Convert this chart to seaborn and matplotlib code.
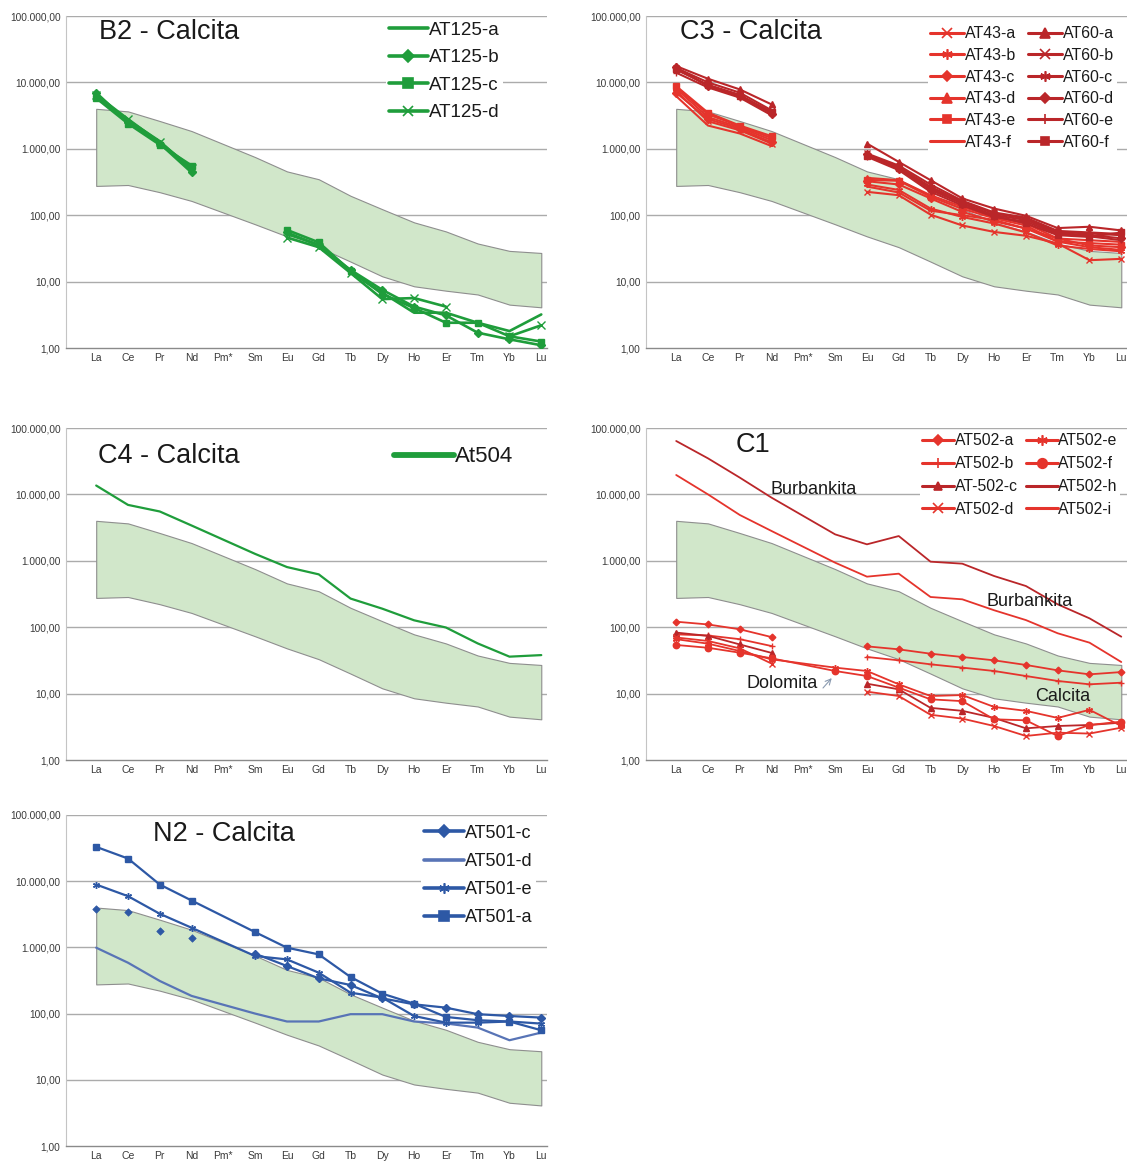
import numpy as np
import matplotlib
matplotlib.use("Agg")
import matplotlib.pyplot as plt
from matplotlib.lines import Line2D
from matplotlib.ticker import FixedLocator, FuncFormatter, NullLocator
import seaborn as sns

nan = np.nan

# ---------------------------------------------------------------- categories
ELEMENTS = ["La", "Ce", "Pr", "Nd", "Pm*", "Sm", "Eu", "Gd", "Tb",
            "Dy", "Ho", "Er", "Tm", "Yb", "Lu"]
# analysed elements (Pm is never measured)
MEASURED = ["La", "Ce", "Pr", "Nd", "Sm", "Eu", "Gd", "Tb",
            "Dy", "Ho", "Er", "Tm", "Yb", "Lu"]

# ---------------------------------------------------------------- reference field (carbonatites)
FIELD_UPPER = [4000, 3660, 2620, 1850, 750, 457, 348, 196, 123, 78, 57, 37.5, 29, 27]
FIELD_LOWER = [276, 285, 222, 164, 73, 48, 33, 20, 12, 8.5, 7.3, 6.4, 4.5, 4.1]

# ---------------------------------------------------------------- B2 - Calcita
AT125_a = [6000, 2700, 1300, 480, nan, 52, 36, 14, 6.8, 3.4, 3.4, 2.4, 1.8, 3.2]
AT125_b = [7000, 2500, 1200, 440, nan, 55, 35, 15, 7.5, 4.2, 3.1, 1.7, 1.35, 1.1]
AT125_c = [5800, 2400, 1150, 560, nan, 60, 39, 14.5, 6.5, 4.0, 2.4, 2.4, 1.5, 1.25]
AT125_d = [6500, 2800, 1250, 520, nan, 46, 33, 13.5, 5.45, 5.65, 4.2, nan, 1.5, 2.2]

# ---------------------------------------------------------------- C3 - Calcita
AT43_a = [7400, 2600, 1900, 1200, nan, 225, 200, 102, 70, 56, 49, 37.5, 21, 22]
AT43_b = [8000, 3000, 2100, 1350, nan, 290, 240, 126, 94, 75, 55, 35, 31, 28.6]
AT43_c = [7000, 2800, 2000, 1250, nan, 325, 290, 179, 112, 81, 63, 44.5, 35, 33]
AT43_d = [8500, 3300, 2200, 1450, nan, 365, 337, 200, 134, 94, 75, 44.5, 42, 39.6]
AT43_e = [8800, 3500, 2240, 1550, nan, 340, 330, 190, 125, 90, 70, 40, 38, 36]
AT43_f = [6200, 2240, 1700, 1100, nan, 270, 220, 117, 100, 85, 63, 40, 33, 30]
AT60_a = [17600, 11350, 7840, 4660, nan, 1200, 635, 337, 179, 126, 98, 64, 67, 59]
AT60_b = [16500, 10000, 7000, 3800, nan, 850, 560, 290, 165, 110, 92, 58, 55, 52]
AT60_c = [15500, 9200, 6500, 3500, nan, 800, 535, 268, 159, 106, 89, 56, 53, 50]
AT60_d = [16800, 8800, 6200, 3400, nan, 822, 500, 240, 150, 100, 85, 54, 50, 45]
AT60_e = [14000, 8400, 5900, 3200, nan, 760, 478, 225, 141, 94, 80, 52, 48, 42]
AT60_f = [16000, 9000, 6300, 3600, nan, 790, 520, 255, 150, 98, 75, 50, 47, 55]

# ---------------------------------------------------------------- C4 - Calcita
At504 = [13600, 6950, 5530, 3400, 1270, 805, 625, 270, 190, 127, 99, 57, 36, 38]

# ---------------------------------------------------------------- C1
AT502_a = [121, 110, 93, 71, nan, 51.5, 46.4, 39.9, 35.6, 31.7, 27, 22.4, 19.5, 21.1]
AT502_b = [78, 75, 66, 52, nan, 35.6, 31.7, 27.6, 24.6, 21.9, 18.4, 15.5, 13.8, 14.6]
AT502_c = [83, 74, 55, 41, nan, 14.1, 11.6, 6.1, 5.5, 4.3, 3.0, 3.25, 3.37, 3.65]
AT502_d = [70, 62, 48, 28.3, nan, 10.7, 9.2, 4.8, 4.2, 3.25, 2.3, 2.58, 2.5, 3.07]
AT502_e = [66, 56.5, 43.8, 32.8, 24.6, 21.9, 13.8, 9.2, 9.5, 6.3, 5.5, 4.3, 5.7, 3.25]
AT502_f = [54, 49, 41.3, 34, 21.9, 18.4, 12.3, 8.2, 7.7, 4.1, 3.96, 2.3, 3.37, 3.78]
AT502_h = [63700, 34900, 17900, 8930, 2500, 1770, 2360, 970, 905, 590, 417, 221, 136, 72]
AT502_i = [19600, 10000, 4900, 2810, 937, 577, 640, 285, 263, 180, 128, 81, 58.5, 29.9]

# ---------------------------------------------------------------- N2 - Calcita
AT501_c = [3740, 3450, 1760, 1370, 803, 523, 341, 270, 170, 138, 123, 98, 92, 87]
AT501_d = [990, 587, 311, 185, 100, 76, 76, 98, 98, 76, 71, 61.5, 39.6, 51.7]
AT501_e = [8900, 5940, 3220, 1980, 740, 659, 415, 207, 174, 92, 73, 73, 76, 70.6]
AT501_a = [33000, 22000, 8900, 5110, 1700, 990, 784, 357, 200, 141, 89, 79.5, 75.9, 56]

# ---------------------------------------------------------------- styling
GREEN = "#1F9D3B"
RED = "#E5342C"
DARK_RED = "#BA2629"
BLUE = "#2D58A5"
BLUE_LIGHT = "#5874B6"
FIELD_FILL = "#D1E7CA"
FIELD_EDGE = "#8E8E8E"
GRID = "#ABABAB"
TXT = "#1A1A1A"
ASTER = (6, 2, 0)

sns.set_style("white")
plt.rcParams["font.family"] = ["Liberation Sans", "DejaVu Sans"]

W, H = 1127, 1162
fig = plt.figure(figsize=(W / 100, H / 100), dpi=100)

POS = np.array([ELEMENTS.index(e) for e in MEASURED], dtype=float)


def fx(x):
    return x / W


def fy(y):
    return 1 - y / H


def make_axes(left, right, top, bottom):
    ax = fig.add_axes([fx(left), fy(bottom), (right - left) / W, (bottom - top) / H])
    ax.set_yscale("log")
    ax.set_ylim(1, 1e5)
    ax.set_xlim(-0.95, 14.18)
    ax.yaxis.set_major_locator(FixedLocator([1, 10, 100, 1000, 10000, 100000]))
    ax.yaxis.set_minor_locator(NullLocator())
    labels = {1: "1,00", 10: "10,00", 100: "100,00", 1000: "1.000,00",
              10000: "10.000,00", 100000: "100.000,00"}
    ax.yaxis.set_major_formatter(FuncFormatter(lambda v, p: labels.get(int(round(v)), "")))
    ax.set_xticks(range(len(ELEMENTS)))
    ax.set_xticklabels(ELEMENTS)
    ax.tick_params(axis="x", length=3, width=0.8, color="#8A8A8A", pad=0.5,
                   labelsize=7.5, labelcolor="#3A3A3A")
    ax.tick_params(axis="y", length=0, pad=4, labelsize=7.3, labelcolor="#3A3A3A")
    ax.grid(False)
    for v in [10, 100, 1000, 10000, 100000]:
        ax.axhline(v, color=GRID, lw=1.0, zorder=0.5)
    for s in ["top", "right"]:
        ax.spines[s].set_visible(False)
    ax.spines["left"].set_color("#C4C4C4")
    ax.spines["left"].set_linewidth(0.8)
    ax.spines["bottom"].set_color("#8A8A8A")
    ax.spines["bottom"].set_linewidth(1.0)
    ax.set_xlabel("")
    ax.set_ylabel("")
    # reference field
    ax.fill_between(POS, FIELD_LOWER, FIELD_UPPER, facecolor=FIELD_FILL,
                    edgecolor=FIELD_EDGE, linewidth=0.8, zorder=1)
    return ax


def runs(mask):
    out, cur = [], []
    for i, ok in enumerate(mask):
        if ok:
            cur.append(i)
        elif cur:
            out.append(cur)
            cur = []
    if cur:
        out.append(cur)
    return out


def draw(ax, values, color, marker=None, ms=5, lw=1.6, loose_until=0):
    y = np.asarray(values, dtype=float)
    x = POS
    if loose_until:
        sel = np.arange(loose_until)
        sel = sel[~np.isnan(y[sel])]
        sns.scatterplot(x=x[sel], y=y[sel], ax=ax, marker=marker, s=ms ** 2,
                        color=color, edgecolor=color, linewidth=0.5,
                        legend=False, zorder=3)
        y = y.copy()
        y[:loose_until] = nan
    for seg in runs(~np.isnan(y)):
        kw = dict(color=color, linewidth=lw, legend=False, sort=False,
                  estimator=None, zorder=3)
        if marker is not None:
            kw.update(marker=marker, markersize=ms, markeredgecolor=color,
                      markerfacecolor=color, markeredgewidth=1.0)
        sns.lineplot(x=x[seg], y=y[seg], ax=ax, **kw)


def handle(color, marker=None, ms=7, lw=2.2):
    return Line2D([], [], color=color, lw=lw, marker=marker, markersize=ms,
                  markeredgecolor=color, markerfacecolor=color, markeredgewidth=1.2)


def legend(ax, handles, labels, left, top, fs, ncol=1, hl=2.1, ls=0.45, cs=0.6):
    leg = ax.legend(handles, labels, loc="upper left",
                    bbox_to_anchor=(fx(left), fy(top)), bbox_transform=fig.transFigure,
                    ncol=ncol, frameon=True, facecolor="white", edgecolor="none",
                    framealpha=1, fancybox=False, borderpad=0.15, borderaxespad=0,
                    handlelength=hl, handletextpad=0.05, labelspacing=ls,
                    columnspacing=cs, fontsize=fs)
    for t in leg.get_texts():
        t.set_color(TXT)
    leg.set_zorder(5)
    return leg


def title(text, cx, cy, fs=19.5):
    fig.text(fx(cx), fy(cy), text, ha="center", va="center", fontsize=fs, color=TXT)


# ================================================================ B2 - Calcita
ax = make_axes(66, 547, 16, 348)
b2 = [("AT125-a", AT125_a, None, 5.5), ("AT125-b", AT125_b, "D", 4.5),
      ("AT125-c", AT125_c, "s", 5.0), ("AT125-d", AT125_d, "x", 5.5)]
for lab, vals, mk, ms in b2:
    draw(ax, vals, GREEN, mk, ms, lw=1.9)
legend(ax, [handle(GREEN, mk, ms * 1.4, lw=2.6) for _, _, mk, ms in b2],
       [b[0] for b in b2], 386, 19, 13.5, hl=2.1, ls=0.55)
title("B2 - Calcita", 169, 32)

# ================================================================ C3 - Calcita
ax = make_axes(646, 1127, 16, 348)
c3 = [("AT43-a", AT43_a, RED, "x", 4.5), ("AT43-b", AT43_b, RED, ASTER, 5.0),
      ("AT43-c", AT43_c, RED, "D", 3.6), ("AT43-d", AT43_d, RED, "^", 4.5),
      ("AT43-e", AT43_e, RED, "s", 4.2), ("AT43-f", AT43_f, RED, None, 4),
      ("AT60-a", AT60_a, DARK_RED, "^", 4.5), ("AT60-b", AT60_b, DARK_RED, "x", 4.5),
      ("AT60-c", AT60_c, DARK_RED, ASTER, 5.0), ("AT60-d", AT60_d, DARK_RED, "D", 3.6),
      ("AT60-e", AT60_e, DARK_RED, "+", 5.0), ("AT60-f", AT60_f, DARK_RED, "s", 4.2)]
for lab, vals, col, mk, ms in c3:
    draw(ax, vals, col, mk, ms, lw=1.5)
legend(ax, [handle(col, mk, ms * 1.5, lw=2.2) for _, _, col, mk, ms in c3],
       [c[0] for c in c3], 928, 24, 11.4, ncol=2, hl=2.15, ls=0.42, cs=0.75)
title("C3 - Calcita", 751, 32)

# ================================================================ C4 - Calcita
ax = make_axes(66, 547, 428, 760)
draw(ax, At504, GREEN, None, lw=1.6)
legend(ax, [handle(GREEN, None, lw=4.2)], ["At504"], 391, 443, 16, hl=2.7)
title("C4 - Calcita", 169, 456)

# ================================================================ C1
ax = make_axes(646, 1127, 428, 760)
c1 = [("AT502-a", AT502_a, RED, "D", 3.4), ("AT502-b", AT502_b, RED, "+", 5.0),
      ("AT-502-c", AT502_c, DARK_RED, "^", 4.2), ("AT502-d", AT502_d, RED, "x", 4.5),
      ("AT502-e", AT502_e, RED, ASTER, 5.0), ("AT502-f", AT502_f, RED, "o", 4.6),
      ("AT502-h", AT502_h, DARK_RED, None, 4), ("AT502-i", AT502_i, RED, None, 4)]
for lab, vals, col, mk, ms in c1:
    draw(ax, vals, col, mk, ms, lw=1.3)
legend(ax, [handle(col, mk, ms * 1.5, lw=2.2) for _, _, col, mk, ms in c1],
       [c[0] for c in c1], 920, 431, 11.3, ncol=2, hl=2.0, ls=0.5, cs=0.55)
title("C1", 753, 445)
for txt, xx, yy in [("Burbankita", 4.33, 11650), ("Burbankita", 11.13, 248),
                    ("Calcita", 12.16, 8.9), ("Dolomita", 3.33, 14.0)]:
    ax.text(xx, yy, txt, ha="center", va="center", fontsize=13, color=TXT, zorder=6)
ax.annotate("", xy=(4.95, 18.4), xytext=(4.56, 11.3),
            arrowprops=dict(arrowstyle="->", color="#8A9AB0", lw=0.8), zorder=6)

# ================================================================ N2 - Calcita
ax = make_axes(66, 547, 815, 1146)
n2 = [("AT501-c", AT501_c, BLUE, "D", 3.8, 4), ("AT501-d", AT501_d, BLUE_LIGHT, None, 4, 0),
      ("AT501-e", AT501_e, BLUE, ASTER, 5.0, 0), ("AT501-a", AT501_a, BLUE, "s", 5.0, 0)]
for lab, vals, col, mk, ms, loose in n2:
    draw(ax, vals, col, mk, ms, lw=1.6, loose_until=loose)
legend(ax, [handle(col, mk, ms * 1.5, lw=2.6) for _, _, col, mk, ms, _ in n2],
       [n[0] for n in n2], 421, 822, 13, hl=2.25, ls=0.62)
title("N2 - Calcita", 224, 834)

fig.savefig("out.png", dpi=100, facecolor="white")
